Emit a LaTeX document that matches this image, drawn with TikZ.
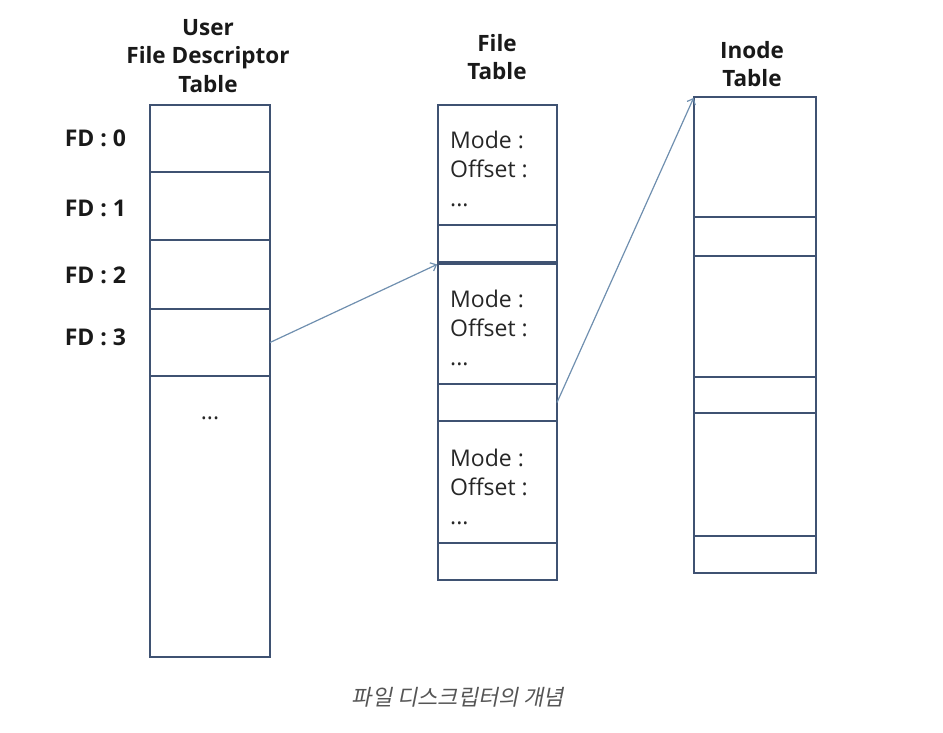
\documentclass[tikz,border=0pt]{standalone}
\usepackage{fontspec}
\setmainfont{Open Sans}
\newfontfamily\kofont[FakeSlant=0.2]{Noto Sans CJK KR}
\usetikzlibrary{arrows.meta}
\definecolor{tableline}{HTML}{3F5272}
\definecolor{arrowline}{HTML}{6F8FAF}
\definecolor{captiongray}{HTML}{555555}
\tikzset{
    cell/.style={draw=tableline, line width=2.4pt, inner sep=0pt, outer sep=0pt},
    head/.style={font=\fontsize{22.5}{28.5}\selectfont\bfseries, align=center, text=black!90},
    fdlabel/.style={font=\fontsize{23}{25}\selectfont\bfseries, text=black!90},
    entry/.style={font=\fontsize{23}{29}\selectfont, align=left, anchor=north west, inner sep=0pt, text=black!85},
    pointer/.style={draw=arrowline, line width=1.2pt, shorten >=1pt, -{Straight Barb[length=5pt,width=9pt]}}
}
\begin{document}
\begin{tikzpicture}[x=1pt,y=-1pt]
    \useasboundingbox (0,0) rectangle (943,733);
    \node[head] (fdhead) at (208,56) {User\\File Descriptor\\Table};
    \node[head] (fthead) at (497,57) {File\\Table};
    \node[head] (inhead) at (752,64) {Inode\\Table};
    \node[cell, minimum width=120pt, minimum height=67pt] (fd0) at (210,138.5) {};
    \node[cell, minimum width=120pt, minimum height=68pt] (fd1) at (210,206) {};
    \node[cell, minimum width=120pt, minimum height=69pt] (fd2) at (210,274.5) {};
    \node[cell, minimum width=120pt, minimum height=67pt] (fd3) at (210,342.5) {};
    \node[cell, minimum width=120pt, minimum height=281pt] (fd4) at (210,516.5) {};
    \node[fdlabel] (fdl0) at (95.5,138) {FD : 0};
    \node[fdlabel] (fdl1) at (95.5,208) {FD : 1};
    \node[fdlabel] (fdl2) at (95.5,275) {FD : 2};
    \node[fdlabel] (fdl3) at (95.5,337) {FD : 3};
    \node[font=\fontsize{23}{29}\selectfont, text=black!85] (fdmore) at (210,418) {...};
    \node[cell, minimum width=119pt, minimum height=120pt] (ft1) at (497.5,165) {};
    \node[cell, minimum width=119pt, minimum height=37pt] (ft2) at (497.5,243.5) {};
    \node[cell, minimum width=119pt, minimum height=120pt] (ft3) at (497.5,324) {};
    \node[cell, minimum width=119pt, minimum height=37pt] (ft4) at (497.5,402.5) {};
    \node[cell, minimum width=119pt, minimum height=122pt] (ft5) at (497.5,482) {};
    \node[cell, minimum width=119pt, minimum height=37pt] (ft6) at (497.5,561.5) {};
    \node[entry] (fte1) at (450,131) {Mode :\\Offset :\\...};
    \node[entry] (fte3) at (450,290) {Mode :\\Offset :\\...};
    \node[entry] (fte5) at (450,449) {Mode :\\Offset :\\...};
    \node[cell, minimum width=122pt, minimum height=120pt] (in1) at (755,157) {};
    \node[cell, minimum width=122pt, minimum height=39pt] (in2) at (755,236.5) {};
    \node[cell, minimum width=122pt, minimum height=121pt] (in3) at (755,316.5) {};
    \node[cell, minimum width=122pt, minimum height=36pt] (in4) at (755,395) {};
    \node[cell, minimum width=122pt, minimum height=123pt] (in5) at (755,474.5) {};
    \node[cell, minimum width=122pt, minimum height=37pt] (in6) at (755,554.5) {};
    \draw[pointer] (fd3.east) -- (ft3.north west);
    \draw[pointer] (ft4.east) -- (in1.north west);
    \node[font=\fontsize{22}{24}\selectfont\kofont, text=captiongray] (caption) at (458,697) {파일 디스크립터의 개념};
\end{tikzpicture}
\end{document}
